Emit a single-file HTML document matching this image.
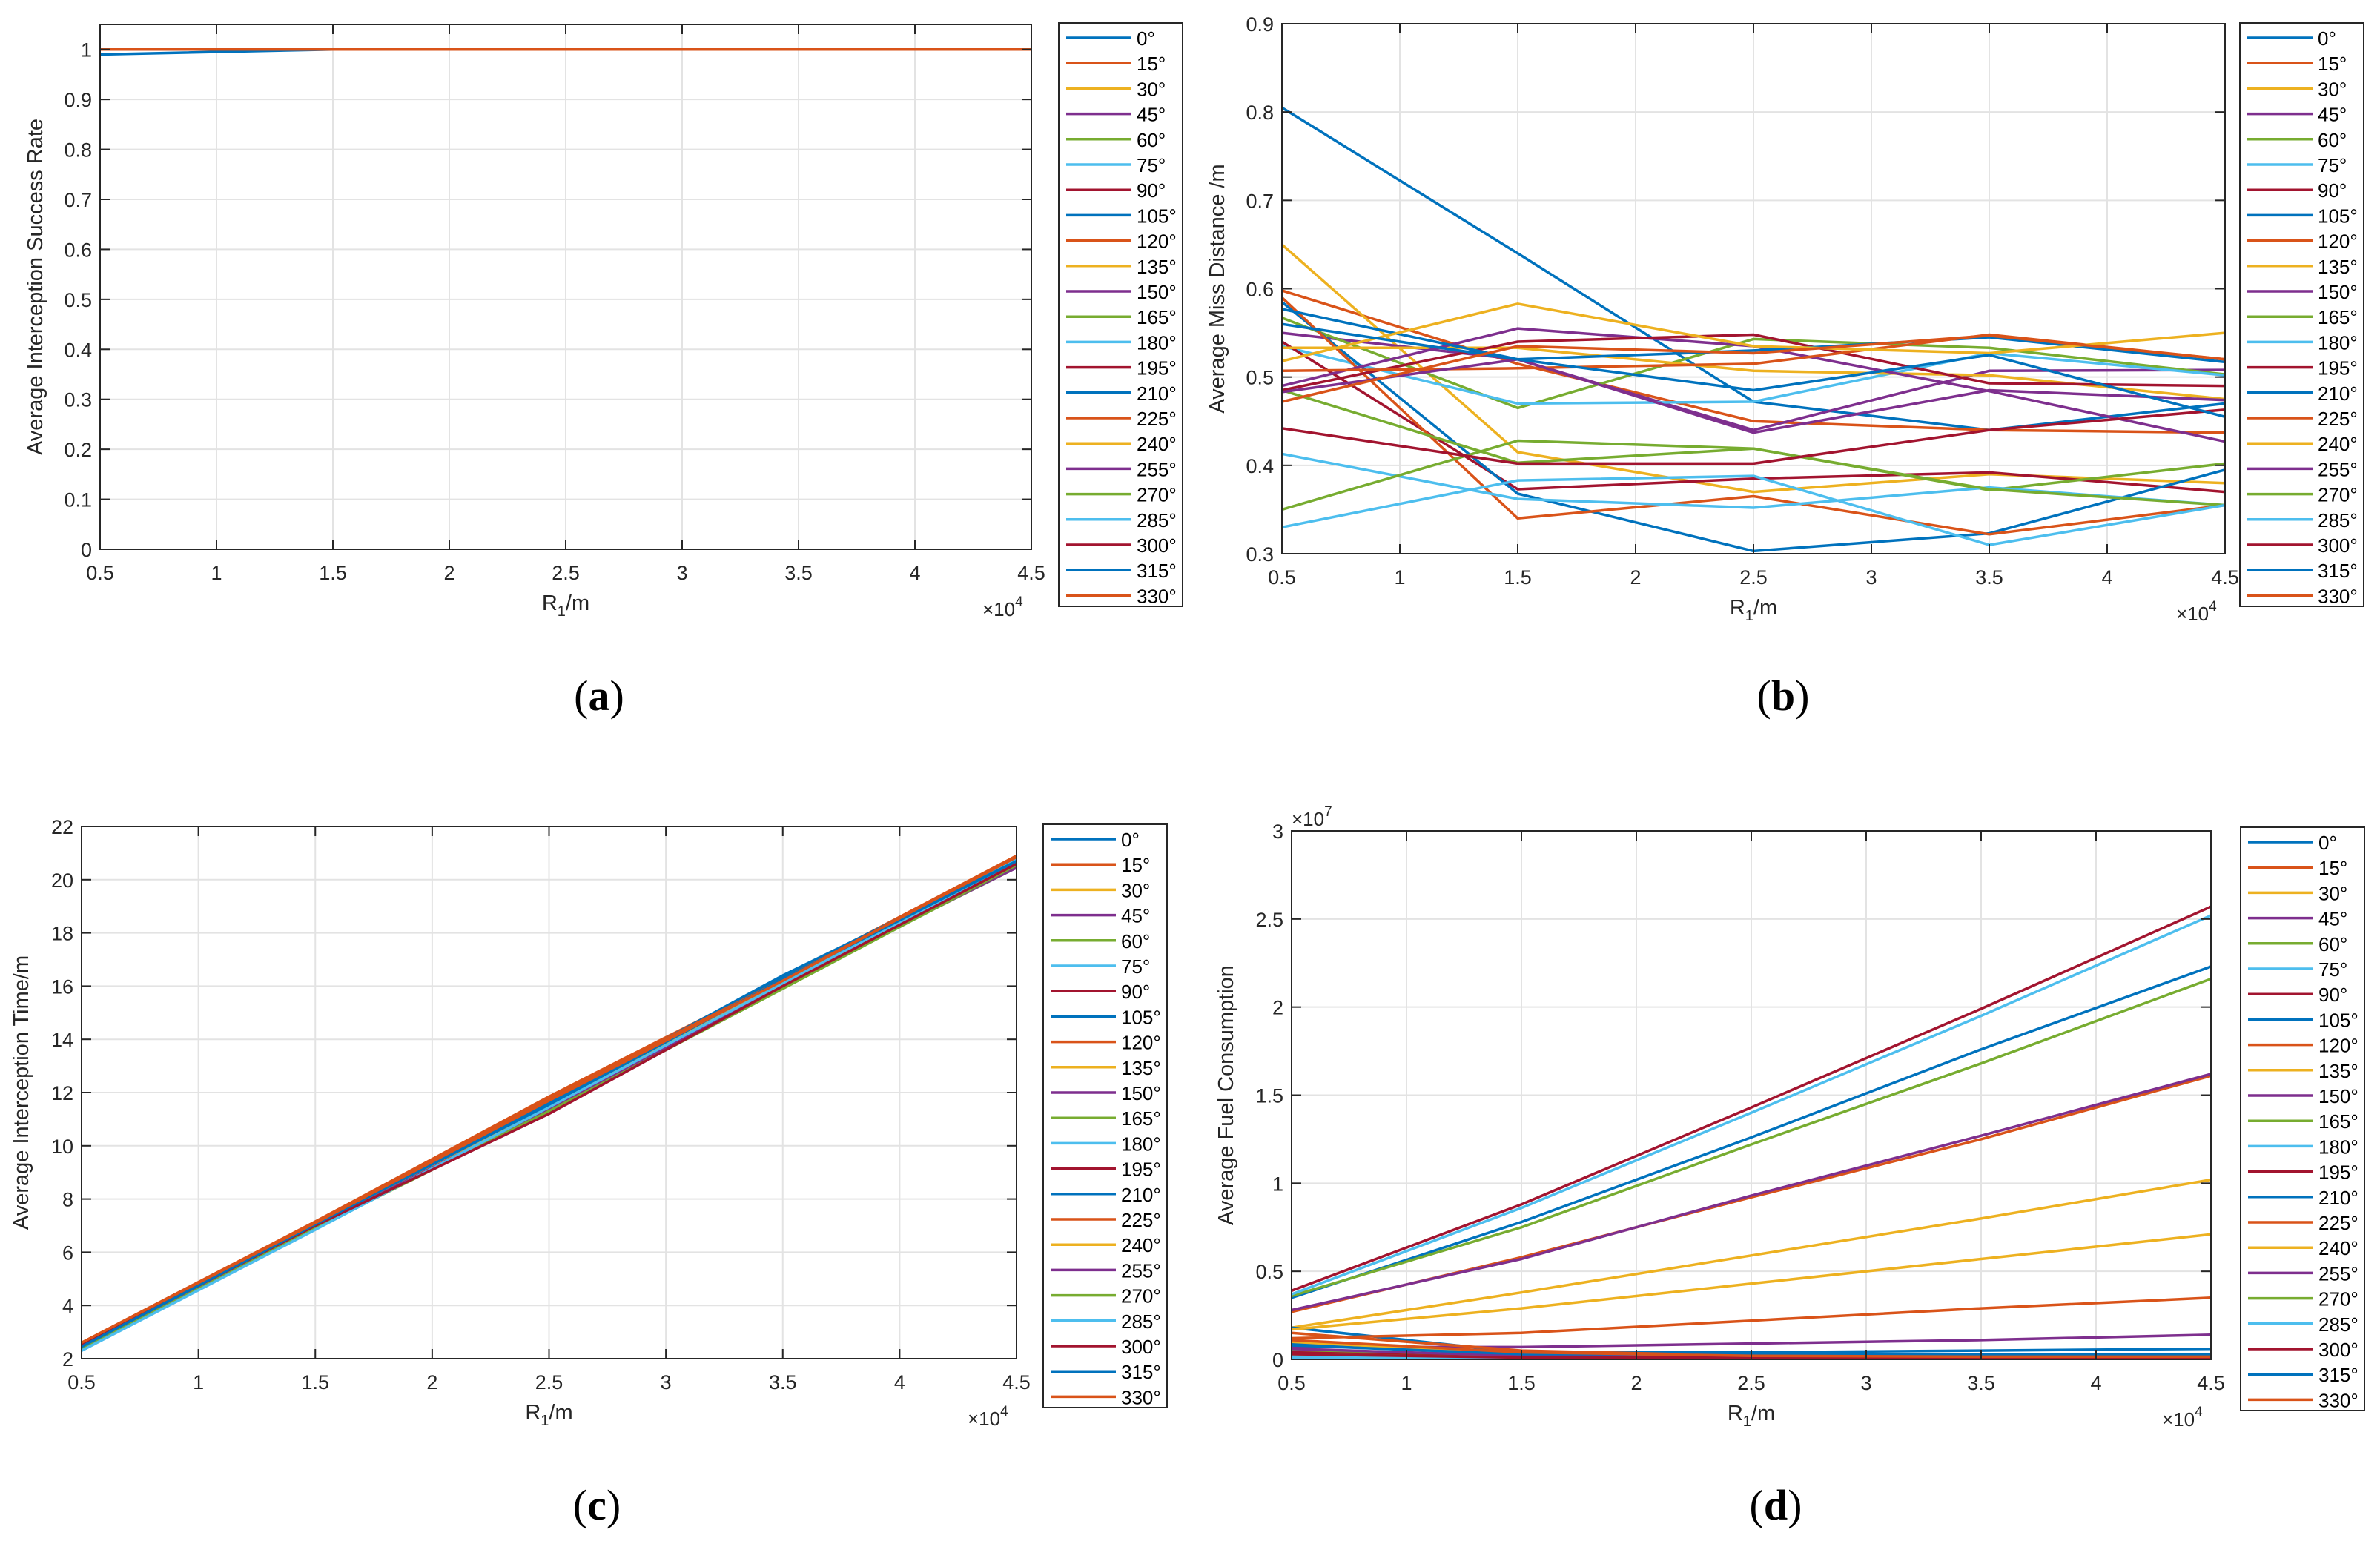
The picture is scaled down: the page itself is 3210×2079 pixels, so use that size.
<!DOCTYPE html>
<html><head><meta charset="utf-8"><style>
html,body{margin:0;padding:0;background:#fff;}
svg{display:block;font-family:"Liberation Sans",Arial,sans-serif;}
.cap{font-family:"Liberation Serif",serif;}
</style></head><body>
<svg id="root" width="3210" height="2079" viewBox="0 0 3210 2079" xmlns="http://www.w3.org/2000/svg">
<rect width="3210" height="2079" fill="#fff"/>
<text class="cap" x="808" y="958" font-size="58" text-anchor="middle">(<tspan font-weight="bold">a</tspan>)</text>
<text class="cap" x="2405" y="958" font-size="58" text-anchor="middle">(<tspan font-weight="bold">b</tspan>)</text>
<text class="cap" x="805" y="2050" font-size="58" text-anchor="middle">(<tspan font-weight="bold">c</tspan>)</text>
<text class="cap" x="2395" y="2050" font-size="58" text-anchor="middle">(<tspan font-weight="bold">d</tspan>)</text>
</svg>
<script>
const xValues = [5000, 15000, 25000, 35000, 45000];
const seriesLabels = ["0°","15°","30°","45°","60°","75°","90°","105°","120°","135°","150°","165°","180°","195°","210°","225°","240°","255°","270°","285°","300°","315°","330°"];
const xTickLabels = ["0.5","1","1.5","2","2.5","3","3.5","4","4.5"];
const xTickValues = [5000,10000,15000,20000,25000,30000,35000,40000,45000];

const yTicksA = [0,0.1,0.2,0.3,0.4,0.5,0.6,0.7,0.8,0.9,1];
const yTickLabelsA = ["0","0.1","0.2","0.3","0.4","0.5","0.6","0.7","0.8","0.9","1"];
const seriesA = [
 [0.99,1,1,1,1],[1,1,1,1,1],[1,1,1,1,1],[1,1,1,1,1],[1,1,1,1,1],[1,1,1,1,1],[1,1,1,1,1],
 [1,1,1,1,1],[1,1,1,1,1],[1,1,1,1,1],[1,1,1,1,1],[1,1,1,1,1],[1,1,1,1,1],[1,1,1,1,1],
 [1,1,1,1,1],[1,1,1,1,1],[1,1,1,1,1],[1,1,1,1,1],[1,1,1,1,1],[1,1,1,1,1],[1,1,1,1,1],
 [1,1,1,1,1],[1,1,1,1,1]
];

const yTicksB = [0.3,0.4,0.5,0.6,0.7,0.8,0.9];
const yTickLabelsB = ["0.3","0.4","0.5","0.6","0.7","0.8","0.9"];
const seriesB = [
 [0.805,0.64,0.472,0.44,0.47],
 [0.598,0.515,0.45,0.44,0.437],
 [0.65,0.415,0.37,0.39,0.38],
 [0.55,0.52,0.44,0.507,0.508],
 [0.567,0.465,0.543,0.533,0.503],
 [0.535,0.47,0.472,0.527,0.502],
 [0.54,0.373,0.385,0.392,0.37],
 [0.585,0.368,0.303,0.323,0.395],
 [0.59,0.34,0.365,0.322,0.355],
 [0.533,0.533,0.507,0.502,0.475],
 [0.49,0.555,0.535,0.484,0.427],
 [0.485,0.403,0.419,0.372,0.402],
 [0.413,0.362,0.352,0.375,0.355],
 [0.485,0.54,0.548,0.493,0.49],
 [0.577,0.52,0.53,0.545,0.517],
 [0.507,0.51,0.515,0.548,0.52],
 [0.518,0.583,0.535,0.527,0.55],
 [0.483,0.52,0.437,0.485,0.474],
 [0.35,0.428,0.419,0.373,0.355],
 [0.33,0.383,0.388,0.31,0.355],
 [0.442,0.402,0.402,0.44,0.463],
 [0.56,0.52,0.485,0.525,0.455],
 [0.472,0.535,0.527,0.547,0.52]
];

const yTicksC = [2,4,6,8,10,12,14,16,18,20,22];
const yTickLabelsC = ["2","4","6","8","10","12","14","16","18","20","22"];
const seriesC = [
 [2.45,7.05,11.7,16.35,20.8],[2.6,7.15,11.85,16.3,20.9],[2.5,7.0,11.6,16.2,20.7],[2.4,6.95,11.5,16.1,20.45],
 [2.35,6.9,11.4,16.0,20.5],[2.3,6.85,11.55,16.2,20.75],[2.5,7.0,11.3,16.1,20.55],[2.45,7.1,11.65,16.4,20.7],
 [2.55,7.1,11.8,16.25,20.85],[2.5,7.0,11.55,16.15,20.65],[2.4,6.95,11.45,16.05,20.45],[2.35,6.9,11.35,15.95,20.5],
 [2.3,6.85,11.5,16.15,20.7],[2.5,7.0,11.25,16.05,20.6],[2.45,7.05,11.6,16.3,20.65],[2.6,7.15,11.75,16.25,20.85],
 [2.5,7.0,11.5,16.1,20.6],[2.4,6.95,11.4,16.0,20.5],[2.35,6.9,11.3,15.9,20.55],[2.3,6.85,11.45,16.1,20.7],
 [2.5,7.0,11.2,16.0,20.6],[2.45,7.05,11.55,16.25,20.7],[2.6,7.1,11.7,16.2,20.9]
];

const yTicksD = [0,0.5,1,1.5,2,2.5,3];
const yTickLabelsD = ["0","0.5","1","1.5","2","2.5","3"];
const seriesD = [
 [0.35,0.78,1.26,1.76,2.23],
 [0.27,0.58,0.92,1.25,1.61],
 [0.18,0.38,0.59,0.80,1.02],
 [0.28,0.57,0.93,1.27,1.62],
 [0.36,0.75,1.22,1.68,2.16],
 [0.37,0.86,1.40,1.95,2.52],
 [0.39,0.88,1.43,1.99,2.57],
 [0.18,0.04,0.04,0.05,0.06],
 [0.12,0.15,0.22,0.29,0.35],
 [0.17,0.29,0.43,0.57,0.71],
 [0.07,0.07,0.09,0.11,0.14],
 [0.05,0.01,0.005,0.005,0.005],
 [0.02,0.01,0.005,0.005,0.005],
 [0.04,0.01,0.01,0.01,0.01],
 [0.09,0.03,0.02,0.02,0.02],
 [0.15,0.05,0.02,0.01,0.01],
 [0.10,0.03,0.01,0.01,0.01],
 [0.06,0.02,0.01,0.01,0.01],
 [0.03,0.01,0.005,0.005,0.005],
 [0.01,0.005,0.005,0.005,0.005],
 [0.03,0.01,0.01,0.01,0.01],
 [0.08,0.03,0.03,0.03,0.03],
 [0.11,0.04,0.02,0.015,0.015]
];

const colors = ["#0072BD","#D95319","#EDB120","#7E2F8E","#77AC30","#4DBEEE","#A2142F"];
const NS = "http://www.w3.org/2000/svg";
const root = document.getElementById('root');
function mk(tag, attrs, parent){const e=document.createElementNS(NS,tag);for(const k in attrs)e.setAttribute(k,attrs[k]);(parent||root).appendChild(e);return e;}

function drawPanel(p){
  const g = mk('g',{});
  
  
  const sx = v => p.L + (v - 5000) / 40000 * (p.R - p.L);
  const sy = v => p.B - (v - p.ymin) / (p.ymax - p.ymin) * (p.B - p.T);
  xTickValues.forEach(v=>{ if(v>5000&&v<45000){ const l=mk('line',{x1:sx(v),x2:sx(v),y1:p.T,y2:p.B,stroke:'#e3e3e3','stroke-width':2},g);
      }});
  p.yt.forEach(v=>{ const y=sy(v); if(y>p.T+1&&y<p.B-1){ const l=mk('line',{x1:p.L,x2:p.R,y1:y,y2:y,stroke:'#e3e3e3','stroke-width':2},g);
      }});
  p.series.forEach((s,i)=>{
    const pts = s.map((v,j)=>sx(xValues[j]).toFixed(1)+','+sy(v).toFixed(1)).join(' ');
    const pl = mk('polyline',{points:pts,fill:'none',stroke:colors[i%7],'stroke-width':3.5,'stroke-linejoin':'round'},g);
    
    
  });
  const box = mk('rect',{x:p.L,y:p.T,width:p.R-p.L,height:p.B-p.T,fill:'none',stroke:'#262626','stroke-width':2},g);
  
  
  xTickValues.forEach((v,i)=>{
    const x=sx(v);
    mk('line',{x1:x,x2:x,y1:p.B,y2:p.B-13,stroke:'#262626','stroke-width':2},g);
    mk('line',{x1:x,x2:x,y1:p.T,y2:p.T+13,stroke:'#262626','stroke-width':2},g);
    const t=mk('text',{x:x,y:p.B+41,'font-size':27,'text-anchor':'middle',fill:'#262626'},g);
    t.textContent=xTickLabels[i];
    
    
  });
  p.yt.forEach((v,i)=>{
    const y=sy(v);
    mk('line',{x1:p.L,x2:p.L+13,y1:y,y2:y,stroke:'#262626','stroke-width':2},g);
    mk('line',{x1:p.R,x2:p.R-13,y1:y,y2:y,stroke:'#262626','stroke-width':2},g);
    const t=mk('text',{x:p.L-11,y:y+10,'font-size':27,'text-anchor':'end',fill:'#262626'},g);
    t.textContent=p.ytl[i];
    
    
  });
  const xl=mk('text',{x:(p.L+p.R)/2,y:p.B+82,'font-size':29,'text-anchor':'middle',fill:'#262626'},g);
  xl.innerHTML='R<tspan font-size="20" dy="8">1</tspan><tspan dy="-8">/m</tspan>';
  
  
  const ex=mk('text',{x:p.R-66,y:p.B+90,'font-size':26,fill:'#262626'},g);
  ex.innerHTML='×10<tspan font-size="19" dy="-13">4</tspan>';
  
  
  const cy=(p.T+p.B)/2;
  const yl=mk('text',{x:p.ylx,y:cy,'font-size':29,'text-anchor':'middle',fill:'#262626',transform:'rotate(-90 '+p.ylx+' '+cy+')'},g);
  yl.textContent=p.ylabel;
  
  
  if(p.yexp){
    const ye=mk('text',{x:p.L,y:p.T-7,'font-size':26,fill:'#262626'},g);
    ye.innerHTML='×10<tspan font-size="19" dy="-13">7</tspan>';
    
    
  }
  const lg=mk('g',{},g);
  
  
  mk('rect',{x:p.lgx,y:p.lgy,width:167,height:787,fill:'#fff',stroke:'#262626','stroke-width':2},lg);
  seriesLabels.forEach((lab,i)=>{
    const y=p.lgy+20+i*34.2;
    const e=mk('g',{},lg);
    
    
    mk('line',{x1:p.lgx+10,x2:p.lgx+98,y1:y,y2:y,stroke:colors[i%7],'stroke-width':3.5},e);
    const t=mk('text',{x:p.lgx+105,y:y+10,'font-size':26,fill:'#000'},e);
    t.textContent=lab;
  });
}

drawPanel({id:'a',L:135,R:1391,T:33,B:741,ymin:0,ymax:1.05,yt:yTicksA,ytl:yTickLabelsA,series:seriesA,ylabel:'Average Interception Success Rate',ylx:57,lgx:1428,lgy:31});
drawPanel({id:'b',L:1729,R:3001,T:32,B:747,ymin:0.3,ymax:0.9,yt:yTicksB,ytl:yTickLabelsB,series:seriesB,ylabel:'Average Miss Distance /m',ylx:1651,lgx:3021,lgy:31});
drawPanel({id:'c',L:110,R:1371,T:1115,B:1833,ymin:2,ymax:22,yt:yTicksC,ytl:yTickLabelsC,series:seriesC,ylabel:'Average Interception Time/m',ylx:38,lgx:1407,lgy:1112});
drawPanel({id:'d',L:1742,R:2982,T:1121,B:1834,ymin:0,ymax:3,yt:yTicksD,ytl:yTickLabelsD,series:seriesD,ylabel:'Average Fuel Consumption',ylx:1663,lgx:3022,lgy:1116,yexp:true});
</script>
</body></html>
